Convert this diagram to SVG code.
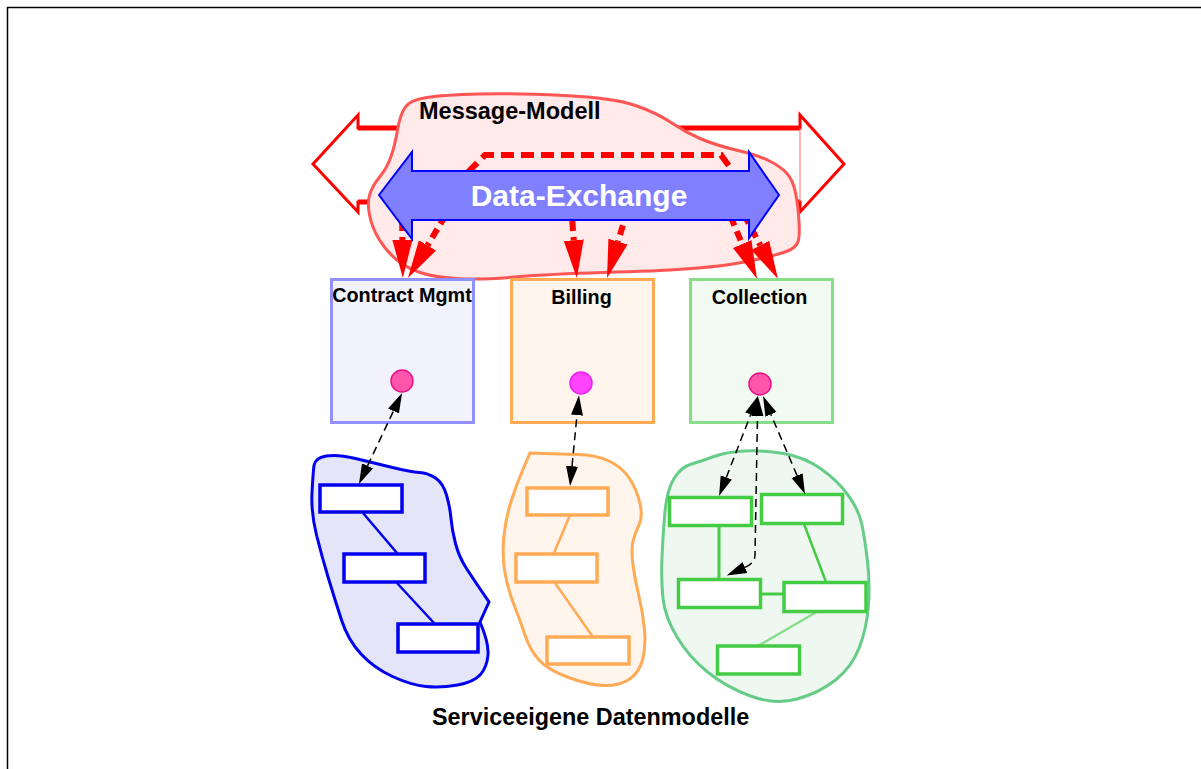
<svg xmlns="http://www.w3.org/2000/svg" width="1201" height="769" viewBox="0 0 1201 769">
  <defs>
    <style>
      .lbl { font-family: "Liberation Sans", Arial, sans-serif; font-weight: bold; fill: #000; }
      .svc { stroke-width: 3; }
      .redflow { fill: none; stroke: #ff0000; stroke-width: 6; stroke-dasharray: 10 6; marker-end: url(#redHead); }
      .link { fill: none; stroke: #000; stroke-width: 1.5; stroke-dasharray: 8 5; marker-start: url(#blackHead); marker-end: url(#blackHead); }
      .mini { fill: #fff; stroke-width: 3.5; }
    </style>
    <marker id="redHead" markerUnits="userSpaceOnUse" viewBox="0 -11 40 22" markerWidth="40" markerHeight="22" refX="0" refY="0" orient="auto">
      <path d="M0,-10 L38,0 L0,10 z" fill="#ff0000"/>
    </marker>
    <marker id="blackHead" markerUnits="userSpaceOnUse" viewBox="0 -7 21 14" markerWidth="21" markerHeight="14" refX="0" refY="0" orient="auto-start-reverse">
      <path d="M0,-6 L20,0 L0,6 z" fill="#000"/>
    </marker>
  </defs>

  <rect width="1201" height="769" fill="#fff"/>
  <!-- page frame -->
  <path d="M7.5,769 V7.5 H1201" fill="none" stroke="#000" stroke-width="1.5"/>

  <!-- outer message channel (hollow double arrow) -->
  <g id="message-channel">
    <polygon points="313,164 358,115 358,128 800,128 800,115 844,164 800,212 800,202 358,202 358,212" fill="#fff" stroke="#ff0000" stroke-width="3" stroke-linejoin="miter"/>
    <line x1="358" y1="128" x2="800" y2="128" stroke="#ff0000" stroke-width="5"/>
    <line x1="358" y1="202" x2="800" y2="202" stroke="#ff0000" stroke-width="5"/>
    <line x1="800" y1="128" x2="800" y2="202" stroke="#ff7070" stroke-width="1"/>
  </g>

  <!-- message model cloud -->
  <g id="message-modell">
    <path d="M405,107.5 Q410,100 426.5,97.5 Q443,95 478.5,94 Q514,93 564,95.5 Q614,98 635.5,105.5 Q657,113 671,122.5 Q685,132 700,138.5 Q715,145 736,150 Q757,155 768.5,160.5 Q780,166 786.5,173 Q793,180 795.5,192.5 Q798,205 799,221.5 Q800,238 797.5,243 Q795,248 787.5,251 Q780,254 763.5,258 Q747,262 730,264.5 Q713,267 685,269 Q657,271 603.5,272.5 Q550,274 515,277 Q480,280 456.5,278.5 Q433,277 420,272.5 Q407,268 397,260 Q387,252 379.5,240 Q372,228 369.5,215 Q367,202 370,193.5 Q373,185 380,176.5 Q387,168 391,156.5 Q395,145 397.5,130 Q400,115 405,107.5 Z" fill="#ffe9e9" stroke="#ff5555" stroke-width="3"/>
    <text class="lbl" x="419" y="119" font-size="23.5">Message-Modell</text>
  </g>

  <!-- message flows into the services -->
  <g id="message-flows">
    <path d="M468,172 L485,155 L721,155 L729,166" fill="none" stroke="#ff0000" stroke-width="6" stroke-dasharray="13 7"/>
    <path class="redflow" d="M402,205 L402.4,240"/>
    <path class="redflow" d="M445.5,215.4 L427.5,245.4"/>
    <path class="redflow" d="M571,205 L573.8,240.2"/>
    <path class="redflow" d="M627.5,210 L618,241.6"/>
    <path class="redflow" d="M730.5,216.4 L742.2,244"/>
    <path class="redflow" d="M744,214.4 L760.3,245.4"/>
  </g>

  <!-- data exchange double arrow -->
  <g id="data-exchange">
    <polygon points="379,195 412,152 412,171 749,171 749,152 779,195 749,238 749,220 412,220 412,239" fill="#8080ff" stroke="#0000ff" stroke-width="2"/>
    <text class="lbl" x="579" y="206" font-size="30" text-anchor="middle" style="fill:#fff">Data-Exchange</text>
  </g>

  <!-- services -->
  <g id="contract-mgmt">
    <rect class="svc" x="331.5" y="279.5" width="142" height="143" fill="#f3f3fd" stroke="#9090ff"/>
    <text class="lbl" x="402" y="302" font-size="19.8" text-anchor="middle">Contract Mgmt</text>
  </g>
  <g id="billing">
    <rect class="svc" x="511.5" y="279.5" width="142" height="143" fill="#fff5ec" stroke="#ffaa55"/>
    <text class="lbl" x="581.5" y="304" font-size="19.8" text-anchor="middle">Billing</text>
  </g>
  <g id="collection">
    <rect class="svc" x="690.5" y="279.5" width="142" height="143" fill="#f0faf1" stroke="#88dd88"/>
    <text class="lbl" x="759.5" y="304" font-size="19.8" text-anchor="middle">Collection</text>
  </g>

  <!-- service-owned data models -->
  <g id="contract-datamodel">
    <path d="M314,465.5 Q315,458 326,456 Q337,454 355.5,458.5 Q374,463 392.5,467.5 Q411,472 419.5,472.5 Q428,473 435.5,478 Q443,483 446.5,495 Q450,507 451,518.5 Q452,530 455.5,543.5 Q459,557 466.5,568.5 Q474,580 481.5,591 L489,602 L480,622 Q489,643 488,655 Q487,667 480.5,674.5 Q474,682 457.5,685 Q441,688 426,686.5 Q411,685 392.5,676.5 Q374,668 361,654 Q348,640 341.5,620 Q335,600 328.5,578.5 Q322,557 316.5,535 Q311,513 312,493 Q313,473 314,465.5 Z" fill="#e5e5fa" stroke="#0000ee" stroke-width="3"/>
    <line x1="363" y1="513" x2="397" y2="553" stroke="#0000ee" stroke-width="2.5"/>
    <line x1="397" y1="583" x2="434" y2="623" stroke="#0000ee" stroke-width="2.5"/>
    <rect class="mini" x="320" y="485" width="82" height="27" stroke="#0000ee"/>
    <rect class="mini" x="344" y="554" width="81" height="28" stroke="#0000ee"/>
    <rect class="mini" x="398" y="624" width="80" height="28" stroke="#0000ee"/>
  </g>

  <g id="billing-datamodel">
    <path d="M530,453 L544.5,453.5 Q559,454 577.5,454.5 Q596,455 609,461 Q622,467 629.5,478.5 Q637,490 640,503.5 Q643,517 639,525 Q635,533 633,541.5 Q631,550 633,565 Q635,580 639,596.5 Q643,613 644.5,630 Q646,647 642.5,660 Q639,673 629,679.5 Q619,686 604,685.5 Q589,685 568.5,677.5 Q548,670 539,660 Q530,650 525,635 Q520,620 513.5,603.5 Q507,587 504.5,570 Q502,553 504,535 Q506,517 511.5,500 Q517,483 523.5,468 L530,453 Z" fill="#fff5ec" stroke="#ffaa55" stroke-width="3"/>
    <line x1="570" y1="515" x2="554" y2="553" stroke="#ffaa55" stroke-width="2.5"/>
    <line x1="555" y1="583" x2="593" y2="637" stroke="#ffaa55" stroke-width="2.5"/>
    <rect class="mini" x="527" y="488" width="81" height="27" stroke="#ffaa55"/>
    <rect class="mini" x="516" y="554" width="81" height="28" stroke="#ffaa55"/>
    <rect class="mini" x="547" y="637" width="82" height="27" stroke="#ffaa55"/>
  </g>

  <g id="collection-datamodel">
    <path d="M691.5,464 Q702,461 714,456.5 Q726,452 744.5,451 Q763,450 783.5,453.5 Q804,457 820.5,468.5 Q837,480 848,495 Q859,510 862,525 Q865,540 867.5,561.5 Q870,583 868.5,605 Q867,627 859.5,647 Q852,667 835.5,680 Q819,693 797,699 Q775,705 750.5,696 Q726,687 707.5,672 Q689,657 677,637 Q665,617 663,598.5 Q661,580 662,556.5 Q663,533 665,511.5 Q667,490 674,478.5 Q681,467 691.5,464 Z" fill="#eef8f1" stroke="#66cc88" stroke-width="3"/>
    <line x1="719" y1="526" x2="719" y2="582" stroke="#44cc44" stroke-width="3"/>
    <line x1="761" y1="594" x2="784" y2="594" stroke="#44cc44" stroke-width="3"/>
    <line x1="804" y1="524" x2="826" y2="582" stroke="#44cc44" stroke-width="2.5"/>
    <line x1="820" y1="610" x2="758" y2="646" stroke="#88dd88" stroke-width="2.5"/>
    <rect class="mini" x="669.5" y="497.5" width="82" height="28" stroke="#44cc44"/>
    <rect class="mini" x="761.5" y="494.5" width="81" height="29" stroke="#44cc44"/>
    <rect class="mini" x="678.5" y="579.5" width="82" height="28" stroke="#44cc44"/>
    <rect class="mini" x="784" y="582.5" width="82" height="29" stroke="#44cc44"/>
    <rect class="mini" x="717.5" y="646" width="82" height="28" stroke="#44cc44"/>
  </g>

  <!-- mappings between service entities and their data models -->
  <g id="mappings">
    <path class="link" d="M367.5,465.9 L393.5,411"/>
    <path class="link" d="M572,466.1 L577,415.1"/>
    <path class="link" d="M726.3,477.4 L750.7,414.6"/>
    <path class="link" d="M797.1,475.6 L770.9,414.4"/>
    <path class="link" d="M745,567.4 Q755,563 755,555 L757.5,416"/>
  </g>

  <!-- service entities -->
  <g id="entities">
    <circle cx="402" cy="381" r="11" fill="#ff55aa" stroke="#ee1188" stroke-width="1.5"/>
    <circle cx="581" cy="383" r="11" fill="#ff44ff" stroke="#ee22ee" stroke-width="1.5"/>
    <circle cx="760" cy="384" r="11" fill="#ff55aa" stroke="#ee1188" stroke-width="1.5"/>
  </g>

  <text class="lbl" x="432" y="725" font-size="23.4">Serviceeigene Datenmodelle</text>
</svg>
